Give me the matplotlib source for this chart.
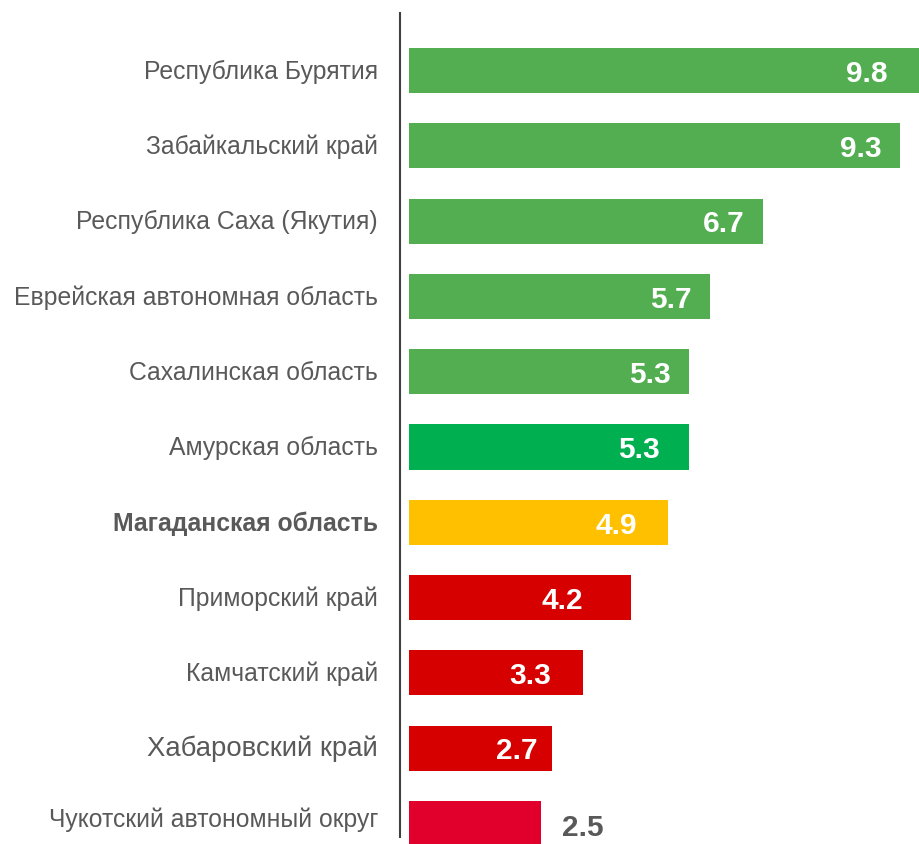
import matplotlib
matplotlib.use("Agg")
import matplotlib.pyplot as plt
from matplotlib.lines import Line2D

regions = [
    "Республика Бурятия",
    "Забайкальский край",
    "Республика Саха (Якутия)",
    "Еврейская автономная область",
    "Сахалинская область",
    "Амурская область",
    "Магаданская область",
    "Приморский край",
    "Камчатский край",
    "Хабаровский край",
    "Чукотский автономный округ",
]
values = [9.8, 9.3, 6.7, 5.7, 5.3, 5.3, 4.9, 4.2, 3.3, 2.7, 2.5]
value_labels = ["9.8", "9.3", "6.7", "5.7", "5.3", "5.3", "4.9", "4.2", "3.3", "2.7", "2.5"]

# styling
GREEN = "#52AE50"
colors = [GREEN, GREEN, GREEN, GREEN, GREEN, "#00B050", "#FFC000",
          "#D70000", "#D70000", "#D70000", "#E1002C"]
label_pad_px = [39, 18, 18, 18, 18, 29, 31, 48, 32, 14]
TEXT = "#595959"
plt.rcParams["font.family"] = ["Liberation Sans", "DejaVu Sans"]

W, H = 920, 845
fig = plt.figure(figsize=(W / 100, H / 100), dpi=100)
ax_left = 409
ax = fig.add_axes([ax_left / W, 0, (W - ax_left) / W, 1])

px_per_unit = 52.8
row_px = 75.3
first_px = 71.5
ax.set_xlim(0, (W - ax_left) / px_per_unit)
ax.set_ylim((H - first_px) / row_px, -first_px / row_px)

ys = list(range(len(values)))
ax.barh(ys, values, height=0.6, color=colors, linewidth=0)
ax.axis("off")

for i, (y, v, lab) in enumerate(zip(ys, values, value_labels)):
    if i < len(label_pad_px):
        ax.text(v - label_pad_px[i] / px_per_unit, y + 0.03, lab, color="white",
                fontsize=21.5, fontweight="bold", ha="right", va="center")
    else:
        ax.text(v + 21 / px_per_unit, y + 0.05, lab, color=TEXT,
                fontsize=21.5, fontweight="bold", ha="left", va="center",
                clip_on=False)

# category labels (right-aligned at x = 378 px)
for i, (y, name) in enumerate(zip(ys, regions)):
    kw = dict(color=TEXT, fontsize=17.8, ha="right", va="center")
    if name == "Магаданская область":
        kw["fontweight"] = "bold"
    if name == "Хабаровский край":
        kw["fontsize"] = 19.8
    dy = -0.06 if i == len(regions) - 1 else 0.0
    ax.text(-31 / px_per_unit, y + dy, name, clip_on=False, **kw)

# vertical axis line
fig.add_artist(Line2D([400 / W, 400 / W], [1 - 14 / H, 1 - 838 / H],
                      transform=fig.transFigure, color="#404040", linewidth=1.5))

fig.savefig("out.png", dpi=100)
